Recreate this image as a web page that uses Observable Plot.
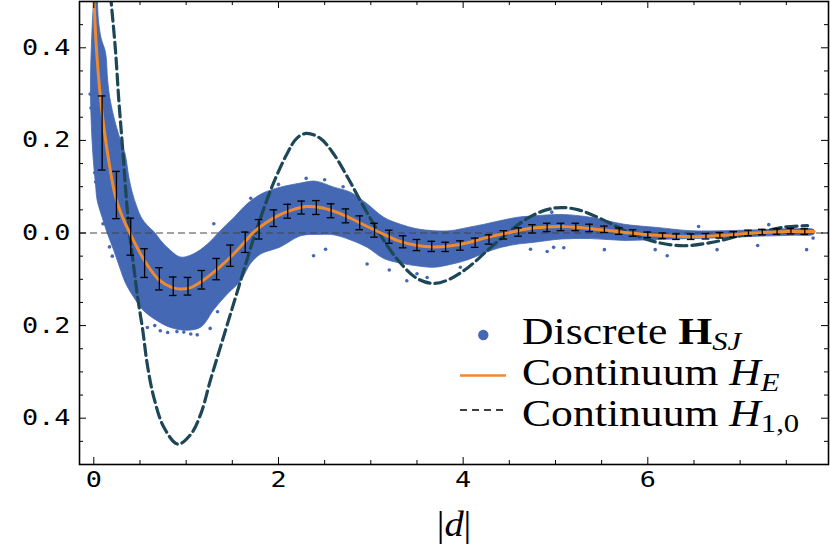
<!DOCTYPE html>
<html>
<head>
<meta charset="utf-8">
<script src="https://cdn.jsdelivr.net/npm/d3@7"></script>
<script src="https://cdn.jsdelivr.net/npm/@observablehq/plot@0.6"></script>
<style>
html,body{margin:0;padding:0;background:#fff;overflow:hidden}
</style>
</head>
<body>
<div id="chart"></div>
<script>
// ---- tick values ----
const xMajor = [0, 2, 4, 6];
const xMinor = [0.5, 1, 1.5, 2.5, 3, 3.5, 4.5, 5, 5.5, 6.5, 7, 7.5];
const yMajor = [-0.4, -0.2, 0, 0.2, 0.4];
const yMinor = [-0.45, -0.35, -0.3, -0.25, -0.15, -0.1, -0.05, 0.05, 0.1, 0.15, 0.25, 0.3, 0.35, 0.45];

// ---- continuum H_E (orange) ----
const heX = [-0.005, 0.003, 0.03, 0.073, 0.138, 0.235, 0.32, 0.39, 0.55, 0.70, 0.85, 0.94, 1.05, 1.20, 1.35, 1.50, 1.64, 1.72, 1.85, 2.00, 2.15, 2.31, 2.45, 2.60, 2.75, 2.90, 3.11, 3.30, 3.50, 3.68, 3.85, 4.05, 4.25, 4.48, 4.70, 4.90, 5.06, 5.30, 5.55, 5.81, 6.10, 6.46, 6.80, 7.15, 7.50, 7.80];
const heY = [0.56, 0.50, 0.394, 0.29, 0.187, 0.078, 0.030, 0.0, -0.060, -0.100, -0.118, -0.121, -0.118, -0.100, -0.076, -0.048, -0.018, 0.0, 0.020, 0.038, 0.050, 0.057, 0.055, 0.047, 0.035, 0.020, 0.0, -0.017, -0.027, -0.030, -0.028, -0.021, -0.010, 0.0, 0.009, 0.013, 0.014, 0.011, 0.006, 0.0, -0.005, -0.008, -0.005, 0.0, 0.003, 0.0035];

// ---- continuum H_{1,0} (dashed) ----
const h10X = [0.17, 0.188, 0.235, 0.271, 0.314, 0.354, 0.387, 0.433, 0.48, 0.53, 0.58, 0.65, 0.76, 0.91, 1.05, 1.16, 1.26, 1.37, 1.48, 1.59, 1.70, 1.75, 1.93, 2.10, 2.20, 2.30, 2.45, 2.60, 2.75, 2.90, 3.09, 3.30, 3.50, 3.68, 3.85, 4.05, 4.25, 4.48, 4.70, 4.90, 5.06, 5.25, 5.50, 5.81, 6.10, 6.39, 6.70, 7.00, 7.19, 7.45, 7.73];
const h10Y = [0.55, 0.50, 0.394, 0.286, 0.178, 0.07, 0.0, -0.074, -0.146, -0.21, -0.285, -0.355, -0.42, -0.456, -0.435, -0.39, -0.32, -0.247, -0.175, -0.103, -0.031, 0.0, 0.10, 0.174, 0.205, 0.215, 0.205, 0.17, 0.12, 0.065, 0.0, -0.060, -0.098, -0.109, -0.100, -0.075, -0.040, 0.0, 0.032, 0.050, 0.055, 0.050, 0.030, 0.0, -0.020, -0.0275, -0.020, -0.006, 0.0, 0.012, 0.016];

// ---- binned means with error bars ----
const errX = [0.09, 0.245, 0.40, 0.55, 0.71, 0.86, 1.02, 1.17, 1.33, 1.48, 1.64, 1.79, 1.95, 2.10, 2.25, 2.41, 2.57, 2.73, 2.88, 3.04, 3.20, 3.35, 3.50, 3.66, 3.81, 3.97, 4.13, 4.28, 4.44, 4.60, 4.75, 4.91, 5.06, 5.22, 5.37, 5.53, 5.69, 5.84, 6.00, 6.16, 6.31, 6.47, 6.63, 6.78, 6.93, 7.09, 7.24, 7.40, 7.55, 7.70];
const errMean = [0.216, 0.082, -0.008, -0.065, -0.099, -0.115, -0.115, -0.101, -0.078, -0.049, -0.020, 0.008, 0.032, 0.047, 0.055, 0.055, 0.048, 0.037, 0.022, 0.006, -0.008, -0.019, -0.026, -0.029, -0.030, -0.027, -0.021, -0.014, -0.004, 0.002, 0.009, 0.012, 0.013, 0.013, 0.011, 0.008, 0.004, 0.000, -0.004, -0.006, -0.008, -0.008, -0.007, -0.005, -0.003, 0.000, 0.002, 0.003, 0.004, 0.003];
const errHalf = [0.080, 0.051, 0.040, 0.031, 0.024, 0.020, 0.019, 0.020, 0.023, 0.023, 0.022, 0.021, 0.018, 0.015, 0.014, 0.015, 0.015, 0.015, 0.015, 0.015, 0.014, 0.013, 0.012, 0.011, 0.010, 0.010, 0.010, 0.010, 0.009, 0.009, 0.009, 0.009, 0.008, 0.008, 0.008, 0.007, 0.007, 0.007, 0.006, 0.006, 0.006, 0.006, 0.006, 0.006, 0.006, 0.006, 0.006, 0.006, 0.006, 0.006];

// ---- discrete H_SJ point cloud: outline of the dense region ----
// upper / right edge, left to right
const cloudTopX = [0.037, 0.05, 0.08, 0.127, 0.15, 0.175, 0.23, 0.29, 0.34, 0.38, 0.42, 0.46, 0.51, 0.58, 0.65, 0.72, 0.80, 0.94, 1.08, 1.23, 1.37, 1.52, 1.66, 1.81, 1.92, 2.02, 2.24, 2.40, 2.60, 2.78, 2.96, 3.14, 3.32, 3.50, 3.68, 3.86, 4.05, 4.23, 4.41, 4.59, 4.77, 5.06, 5.38, 5.74, 6.10, 6.46, 6.83, 7.19, 7.55, 7.80];
const cloudTopY = [0.52, 0.46, 0.42, 0.39, 0.33, 0.29, 0.24, 0.20, 0.17, 0.12, 0.085, 0.06, 0.035, 0.016, 0.003, -0.015, -0.032, -0.052, -0.045, -0.024, 0.005, 0.034, 0.063, 0.084, 0.093, 0.099, 0.108, 0.112, 0.099, 0.088, 0.063, 0.034, 0.019, 0.009, 0.005, 0.005, 0.012, 0.019, 0.027, 0.034, 0.037, 0.040, 0.034, 0.019, 0.012, 0.005, 0.005, 0.007, 0.009, 0.007];
// lower / left edge, left to right
const cloudBotX = [0.003, -0.017, -0.036, -0.03, -0.01, 0.018, 0.037, 0.09, 0.145, 0.217, 0.29, 0.343, 0.433, 0.54, 0.69, 0.83, 1.01, 1.16, 1.30, 1.445, 1.59, 1.70, 1.81, 2.02, 2.24, 2.45, 2.60, 2.78, 2.96, 3.14, 3.32, 3.50, 3.68, 3.86, 4.05, 4.23, 4.41, 4.59, 4.77, 5.06, 5.38, 5.74, 6.10, 6.46, 6.83, 7.19, 7.55, 7.80];
const cloudBotY = [0.52, 0.45, 0.33, 0.25, 0.17, 0.106, 0.07, 0.034, 0.0, -0.038, -0.080, -0.108, -0.139, -0.168, -0.19, -0.204, -0.21, -0.203, -0.165, -0.132, -0.103, -0.065, -0.045, -0.03, -0.006, -0.003, -0.004, -0.015, -0.031, -0.055, -0.065, -0.071, -0.074, -0.068, -0.058, -0.043, -0.031, -0.024, -0.02, -0.013, -0.012, -0.016, -0.014, -0.012, -0.01, -0.007, -0.005, -0.002];
// sparse points outside the dense region
const strayX = [0.58, 0.66, 0.72, 0.80, 0.90, 0.975, 1.05, 1.12, 1.26, 1.34, 2.38, 2.51, 2.27, 2.96, 3.20, 3.39, 3.50, 3.61, 3.97, 4.73, 4.98, 4.91, 5.09, 5.53, 6.08, 6.21, 6.55, 6.75, 7.19, 7.31, 7.72, 7.79, 4.96, -0.04, -0.03, 0.01, 0.02, 0.10, 0.17, 0.20, 2.00, 2.30, 2.50, 2.70, 1.70, 1.30];
const strayY = [-0.204, -0.20, -0.211, -0.215, -0.213, -0.214, -0.218, -0.22, -0.206, -0.17, -0.049, -0.035, 0.012, -0.067, -0.08, -0.103, -0.088, -0.096, -0.074, -0.035, -0.031, -0.04, -0.032, -0.036, -0.036, -0.049, 0.014, -0.036, -0.027, 0.018, -0.036, -0.011, 0.045, 0.30, 0.27, 0.13, 0.11, 0.02, -0.03, -0.05, 0.105, 0.118, 0.115, 0.10, 0.075, 0.02];

// ---- tables built from the arrays ----
const heData = heX.map((x, i) => ({x, y: heY[i]}));
const h10Data = h10X.map((x, i) => ({x, y: h10Y[i]}));
const errData = errX.map((x, i) => ({x, lo: errMean[i] - errHalf[i], hi: errMean[i] + errHalf[i]}));
const cloudOutline = cloudTopX.map((x, i) => ({x, y: cloudTopY[i]}))
  .concat(cloudBotX.map((x, i) => ({x, y: cloudBotY[i]})).reverse());
const strays = strayX.map((x, i) => ({x, y: strayY[i]}));

const W = 830, H = 546, mL = 79, mR = 2, mT = 1, mB = 82;
const innerW = W - mL - mR, innerH = H - mT - mB;
const blue = "#4468b4", orange = "#ef8a2e", teal = "#1d4757";
const tMaj = 7, tMin = 4;
const tickStyle = {stroke: "black", strokeWidth: 1};

const chart = Plot.plot({
  width: W, height: H,
  marginLeft: mL, marginRight: mR, marginTop: mT, marginBottom: mB,
  x: {domain: [-0.155, 7.957], label: null},
  y: {domain: [-0.5, 0.5], label: null},
  style: {fontFamily: "DejaVu Sans Mono", fontSize: "22px", color: "black", background: "white"},
  marks: [
    Plot.line(cloudOutline, {x: "x", y: "y", fill: blue, stroke: blue, strokeWidth: 0.8, curve: "catmull-rom", clip: true}),
    Plot.dot(strays, {x: "x", y: "y", r: 1.8, fill: blue, clip: true}),
    Plot.ruleY([0], {stroke: "#444", strokeWidth: 1, strokeDasharray: "7,4"}),
    Plot.line(h10Data, {x: "x", y: "y", stroke: teal, strokeWidth: 3.2, strokeDasharray: "11,5", curve: "catmull-rom", clip: true}),
    Plot.line(heData, {x: "x", y: "y", stroke: orange, strokeWidth: 3, curve: "catmull-rom", clip: true}),
    Plot.ruleX(errData, {x: "x", y1: "lo", y2: "hi", stroke: "black", strokeWidth: 1.3}),
    Plot.ruleY(errData, {y: "lo", x1: "x", x2: "x", insetLeft: -3.8, insetRight: -3.8, stroke: "black", strokeWidth: 1.3}),
    Plot.ruleY(errData, {y: "hi", x1: "x", x2: "x", insetLeft: -3.8, insetRight: -3.8, stroke: "black", strokeWidth: 1.3}),
    // inward ticks on all four sides
    Plot.ruleX(xMajor, {insetTop: innerH - tMaj, ...tickStyle}),
    Plot.ruleX(xMajor, {insetBottom: innerH - tMaj, ...tickStyle}),
    Plot.ruleX(xMinor, {insetTop: innerH - tMin, ...tickStyle}),
    Plot.ruleX(xMinor, {insetBottom: innerH - tMin, ...tickStyle}),
    Plot.ruleY(yMajor, {insetRight: innerW - tMaj, ...tickStyle}),
    Plot.ruleY(yMajor, {insetLeft: innerW - tMaj, ...tickStyle}),
    Plot.ruleY(yMinor, {insetRight: innerW - tMin, ...tickStyle}),
    Plot.ruleY(yMinor, {insetLeft: innerW - tMin, ...tickStyle}),
    Plot.frame({stroke: "black", strokeWidth: 1.6}),
    Plot.axisX({ticks: xMajor, tickSize: 0, tickPadding: 7, tickFormat: d => String(d), label: null}),
    Plot.axisY({ticks: yMajor, tickSize: 0, tickPadding: 9, tickFormat: d => Math.abs(d).toFixed(1), label: null})
  ]
});

document.getElementById("chart").appendChild(chart);

const svg = d3.select(chart);
// the reference typesetting is horizontally stretched
svg.selectAll('g[aria-label="x-axis tick label"] text, g[aria-label="y-axis tick label"] text')
  .each(function() {
    const t = this.getAttribute("transform") || "";
    this.setAttribute("transform", t + " scale(1.22,1)");
  });

// x-axis title |d|
const xt = svg.append("text")
  .attr("transform", "translate(454,536) scale(1.1,1)")
  .attr("text-anchor", "middle")
  .attr("font-family", "Liberation Serif")
  .attr("font-size", 35)
  .attr("fill", "black");
xt.append("tspan").text("|");
xt.append("tspan").attr("font-style", "italic").text("d");
xt.append("tspan").text("|");

// legend
const lg = svg.append("g").attr("font-family", "Liberation Serif").attr("fill", "black").attr("text-anchor", "start");
lg.append("circle").attr("cx", 483.3).attr("cy", 335).attr("r", 5.2).attr("fill", blue);
lg.append("line").attr("x1", 460).attr("x2", 506).attr("y1", 375.5).attr("y2", 375.5)
  .attr("stroke", orange).attr("stroke-width", 2.6);
lg.append("line").attr("x1", 460).attr("x2", 504).attr("y1", 410).attr("y2", 410)
  .attr("stroke", "black").attr("stroke-width", 1.4).attr("stroke-dasharray", "7,5");

function legendText(y) {
  return lg.append("text").attr("transform", `translate(522,${y}) scale(1.18,1)`)
    .attr("font-size", 37).attr("text-anchor", "start");
}
const l1 = legendText(344);
l1.append("tspan").text("Discrete ");
l1.append("tspan").attr("font-weight", "bold").text("H");
l1.append("tspan").attr("font-style", "italic").attr("font-size", 26).attr("dy", 6).text("SJ");
const l2 = legendText(385);
l2.append("tspan").text("Continuum ");
l2.append("tspan").attr("font-style", "italic").text("H");
l2.append("tspan").attr("font-style", "italic").attr("font-size", 26).attr("dy", 6).text("E");
const l3 = legendText(426);
l3.append("tspan").text("Continuum ");
l3.append("tspan").attr("font-style", "italic").text("H");
l3.append("tspan").attr("font-size", 26).attr("dy", 6).text("1,0");
</script>
</body>
</html>
